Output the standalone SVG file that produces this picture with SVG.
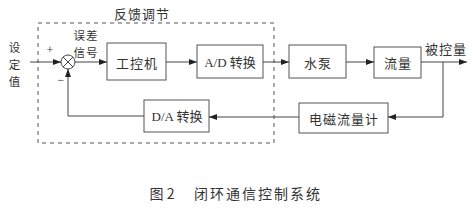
<svg xmlns="http://www.w3.org/2000/svg" width="473" height="209" viewBox="0 0 473 209">
<style>
.box{fill:#fff;stroke:#555;stroke-width:1}
.ln{fill:none;stroke:#444;stroke-width:1}
.t{font-family:"Liberation Serif","Noto Sans CJK SC",serif;font-size:13px;fill:#333;text-anchor:middle;dominant-baseline:central}
.c{font-family:"Noto Sans CJK SC",sans-serif;font-size:13px;fill:#333;text-anchor:middle;dominant-baseline:central;letter-spacing:1px}
.s{font-size:11.5px}
.dash{fill:none;stroke:#555;stroke-width:1;stroke-dasharray:4,4}
</style>
<defs>
<marker id="ar" markerWidth="8" markerHeight="6" refX="8" refY="3" orient="auto" markerUnits="userSpaceOnUse">
<path d="M0,0 L8,3 L0,6 Z" fill="#222"/>
</marker>
</defs>
<rect width="473" height="209" fill="#fff"/>
<rect class="dash" x="38" y="23" width="236" height="120"/>
<text class="c" x="142" y="13">反馈调节</text>
<g id="input">
<text class="c s" x="15" y="47">设</text>
<text class="c s" x="15" y="64">定</text>
<text class="c s" x="15" y="81">值</text>
</g>
<g id="sum">
<circle cx="68" cy="62" r="7" fill="#fff" stroke="#444"/>
<path class="ln" d="M63,57 L73,67 M73,57 L63,67"/>
<text class="t" x="50" y="50" style="font-size:12px">+</text>
<text class="t" x="61" y="80" style="font-size:12px">−</text>
</g>
<g id="err">
<text class="c s" x="86" y="35">误差</text>
<text class="c s" x="86" y="52">信号</text>
</g>
<g id="n1"><rect class="box" x="107" y="43" width="59" height="37"/><text class="c" x="137" y="62">工控机</text></g>
<g id="n2"><rect class="box" x="197" y="45" width="66" height="33"/><text class="t" x="230" y="62">A/D 转换</text></g>
<g id="n3"><rect class="box" x="289" y="45" width="57" height="33"/><text class="c" x="318" y="62">水泵</text></g>
<g id="n4"><rect class="box" x="374" y="47" width="47" height="31"/><text class="c" x="398" y="62">流量</text></g>
<g id="n5"><rect class="box" x="299" y="103" width="89" height="30"/><text class="c" x="344" y="118">电磁流量计</text></g>
<g id="n6"><rect class="box" x="144" y="100" width="65" height="32"/><text class="t" x="177" y="116">D/A 转换</text></g>
<text class="c" x="446" y="48">被控量</text>
<g id="connectors">
<line class="ln" x1="30" y1="62" x2="61" y2="62" marker-end="url(#ar)"/>
<line class="ln" x1="75" y1="62" x2="107" y2="62" marker-end="url(#ar)"/>
<line class="ln" x1="166" y1="62" x2="197" y2="62" marker-end="url(#ar)"/>
<line class="ln" x1="263" y1="62" x2="289" y2="62" marker-end="url(#ar)"/>
<line class="ln" x1="346" y1="62" x2="374" y2="62" marker-end="url(#ar)"/>
<line class="ln" x1="421" y1="62" x2="467" y2="62" marker-end="url(#ar)"/>
<polyline class="ln" points="443,62 443,117 388,117" marker-end="url(#ar)"/>
<line class="ln" x1="299" y1="117" x2="209" y2="117" marker-end="url(#ar)"/>
<polyline class="ln" points="144,116 68,116 68,69" marker-end="url(#ar)"/>
</g>
<text class="c" x="162" y="193" style="letter-spacing:0;font-size:14px">图 2</text>
<text class="c" x="258" y="193" style="letter-spacing:2px;font-size:14px">闭环通信控制系统</text>
</svg>
